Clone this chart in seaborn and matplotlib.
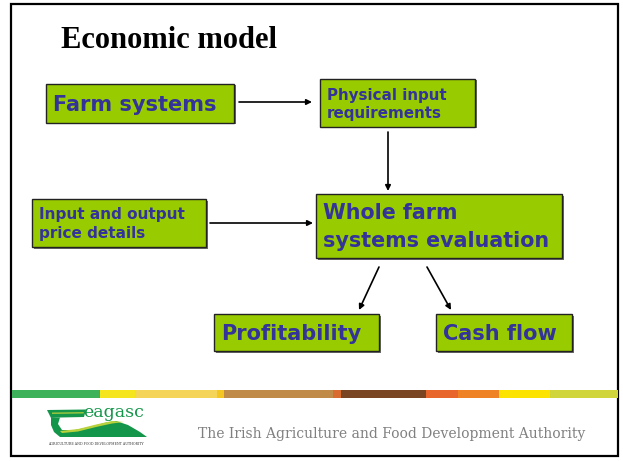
import matplotlib
matplotlib.use("Agg")
import matplotlib.pyplot as plt
from matplotlib.patches import Rectangle, Polygon, FancyArrowPatch
import seaborn as sns

# ---- content ----
title = "Economic model"
box_labels = ["Farm systems", "Physical input\nrequirements", "Whole farm\nsystems evaluation",
              "Input and output\nprice details", "Profitability", "Cash flow"]
links = [(0, 1), (1, 2), (3, 2), (2, 4), (2, 5)]
footer = "The Irish Agriculture and Food Development Authority"
logo_word = "eagasc"
logo_sub = "AGRICULTURE AND FOOD DEVELOPMENT AUTHORITY"
stripe_colors = ["#3db25a", "#f4e51e", "#f5d45a", "#f5c622", "#c08b48", "#d96a30",
                 "#7a4522", "#e8652c", "#ef8225", "#fde300", "#cfd53a"]
stripe_edges = [12, 100, 135, 217, 224, 333, 341, 426, 458, 499, 550, 618]

# ---- layout (pixel coordinates) ----
box_rects = [(46, 84, 188, 39), (320, 79, 155, 48), (316, 194, 246, 64),
             (32, 199, 174, 48), (214, 314, 165, 37), (436, 314, 136, 37)]
box_fs = [15, 10.9, 14.9, 10.95, 15, 15]
box_ls = [1.0, 1.25, 1.45, 1.3, 1.0, 1.0]
arrow_pts = [((239, 102), (312, 102)), ((388, 132), (388, 191)), ((210, 223), (313, 223)),
             ((379, 267), (359, 310)), ((427, 267), (451, 310))]

sns.set_theme(style="white")
plt.rcParams['font.family'] = ['DejaVu Sans']

fig = plt.figure(figsize=(6.23, 4.61), dpi=100)
ax = fig.add_axes([0, 0, 1, 1])
ax.set_xlim(0, 623)
ax.set_ylim(461, 0)
ax.axis("off")

# frame
ax.add_patch(Rectangle((11, 4), 607, 452, fill=False, edgecolor="black", lw=1.6))

# title
ax.text(61, 41, title, fontsize=22, fontweight="bold", family="Liberation Serif",
        ha="left", va="center", color="black")

# boxes
for (x, y, w, h), lab, fs, ls in zip(box_rects, box_labels, box_fs, box_ls):
    ax.add_patch(Rectangle((x + 1.5, y + 1.5), w, h, facecolor="#6b6b6b", edgecolor="none", zorder=1))
    ax.add_patch(Rectangle((x, y), w, h, facecolor="#99cc00", edgecolor="#222222", lw=1.0, zorder=2))
    ax.text(x + 7, y + h / 2 + 1, lab, fontsize=fs, fontweight="bold", color="#333399",
            ha="left", va="center", linespacing=ls, zorder=3)

# arrows
for (p0, p1) in arrow_pts:
    ax.add_patch(FancyArrowPatch(p0, p1, arrowstyle="-|>", mutation_scale=8,
                                 color="black", lw=1.2, shrinkA=0, shrinkB=0, zorder=4))

# colour stripe
for c, x0, x1 in zip(stripe_colors, stripe_edges[:-1], stripe_edges[1:]):
    ax.add_patch(Rectangle((x0, 390), x1 - x0, 7.5, facecolor=c, edgecolor="none"))

# logo
dark_g = "#14964a"
light_g = "#b9d23c"
# top bar
ax.add_patch(Polygon([(47, 410), (86, 409.5), (84, 417), (60, 417.5), (51, 418)],
                     closed=True, facecolor=dark_g, edgecolor="none"))
ax.add_patch(Polygon([(52, 412.5), (84, 412), (83.5, 413.5), (52, 414)],
                     closed=True, facecolor=light_g, edgecolor="none", alpha=0.8))
# stem and hills
ax.add_patch(Polygon([(51, 418), (60, 417.5), (58, 424), (62, 430), (75, 430), (90, 427),
                      (104, 423), (116, 421), (128, 425), (140, 432), (147, 437),
                      (60, 437), (54, 432), (51, 425)],
                     closed=True, facecolor=dark_g, edgecolor="none"))
ax.add_patch(Polygon([(60, 431), (78, 429), (96, 424.5), (112, 421), (124, 422),
                      (112, 423.5), (96, 427), (78, 431.5), (62, 433)],
                     closed=True, facecolor=light_g, edgecolor="none"))
ax.text(83, 412, logo_word, fontsize=12.5, family="DejaVu Serif", color=dark_g,
        ha="left", va="center")
ax.text(96, 444, logo_sub, fontsize=2.3, family="DejaVu Serif", color="#333333",
        ha="center", va="center")

# footer
ax.text(198, 434, footer, fontsize=10, family="DejaVu Serif", color="#808080",
        ha="left", va="center")

fig.savefig("out.png", dpi=100)
